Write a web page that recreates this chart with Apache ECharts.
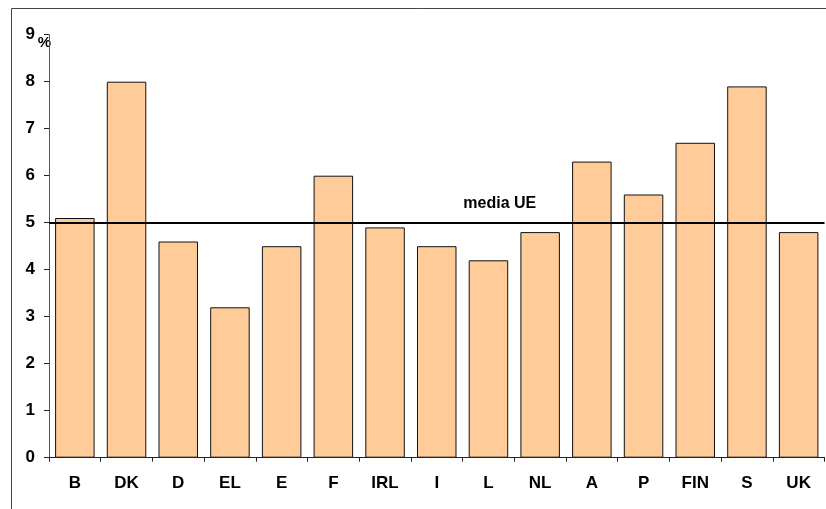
<!DOCTYPE html>
<html>
<head>
<meta charset="utf-8">
<style>
  html, body { margin: 0; padding: 0; background: #fff; }
  #chart { width: 826px; height: 509px; }
</style>
<script src="https://cdn.jsdelivr.net/npm/echarts@6/dist/echarts.min.js"></script>
</head>
<body>
<div id="chart"></div>
<script>
// Countries and their rates (%)
const categories = ['B', 'DK', 'D', 'EL', 'E', 'F', 'IRL', 'I', 'L', 'NL', 'A', 'P', 'FIN', 'S', 'UK'];
const values = [5.1, 8.0, 4.6, 3.2, 4.5, 6.0, 4.9, 4.5, 4.2, 4.8, 6.3, 5.6, 6.7, 7.9, 4.8];
// EU average reference line
const averageValue = 5.0;
const averageLabel = 'media UE';
const yTicks = [0, 1, 2, 3, 4, 5, 6, 7, 8, 9];
const unitLabel = '%';

const FONT = '"Liberation Sans", Arial, sans-serif';
const chart = echarts.init(document.getElementById('chart'), null, { renderer: 'canvas' });

chart.setOption({
  animation: false,
  backgroundColor: '#ffffff',
  grid: { left: 49, right: 1.5, top: 34.7, bottom: 51.3, containLabel: false },
  xAxis: {
    type: 'category',
    data: categories,
    axisLine: { lineStyle: { color: '#222', width: 1 } },
    axisTick: { show: true, inside: false, length: 4, alignWithLabel: false, lineStyle: { color: '#222' } },
    axisLabel: { color: '#000', fontFamily: FONT, fontWeight: 'bold', fontSize: 17, margin: 17 },
    splitLine: { show: false }
  },
  yAxis: {
    type: 'value',
    min: yTicks[0],
    max: yTicks[yTicks.length - 1],
    interval: 1,
    axisLine: { show: true, lineStyle: { color: '#555', width: 1 } },
    axisTick: { show: true, inside: false, length: 5, lineStyle: { color: '#222' } },
    axisLabel: { color: '#000', fontFamily: FONT, fontWeight: 'bold', fontSize: 17, margin: 14 },
    splitLine: { show: false }
  },
  series: [{
    type: 'bar',
    data: values,
    barCategoryGap: '23.6%',
    itemStyle: { color: '#FFCC99', borderColor: '#111', borderWidth: 1 },
    markLine: {
      silent: true,
      symbol: 'none',
      label: { show: false },
      lineStyle: { color: '#000', width: 2, type: 'solid' },
      data: [{ yAxis: averageValue }]
    }
  }]
});

// Frame, unit sign and average caption placed from axis coordinates
const yTop = chart.convertToPixel({ yAxisIndex: 0 }, yTicks[yTicks.length - 1]);
const yAvg = chart.convertToPixel({ yAxisIndex: 0 }, averageValue);
const xL = chart.convertToPixel({ xAxisIndex: 0 }, 'L');
const xNL = chart.convertToPixel({ xAxisIndex: 0 }, 'NL');

chart.setOption({
  graphic: [
    { type: 'line', shape: { x1: 11.5, y1: 8.5, x2: 826, y2: 8.5 }, style: { stroke: '#444', lineWidth: 1 }, silent: true },
    { type: 'line', shape: { x1: 11.5, y1: 8.5, x2: 11.5, y2: 509 }, style: { stroke: '#444', lineWidth: 1 }, silent: true },
    {
      type: 'text', x: 44.5, y: yTop + 8, silent: true,
      style: { text: unitLabel, fill: '#000', font: 'bold 15px ' + FONT, align: 'center', verticalAlign: 'middle' }
    },
    {
      type: 'text', x: xL + (xNL - xL) * 0.22, y: yAvg - 19, silent: true,
      style: { text: averageLabel, fill: '#000', font: 'bold 16px ' + FONT, align: 'center', verticalAlign: 'middle' }
    }
  ]
});
</script>
</body>
</html>
